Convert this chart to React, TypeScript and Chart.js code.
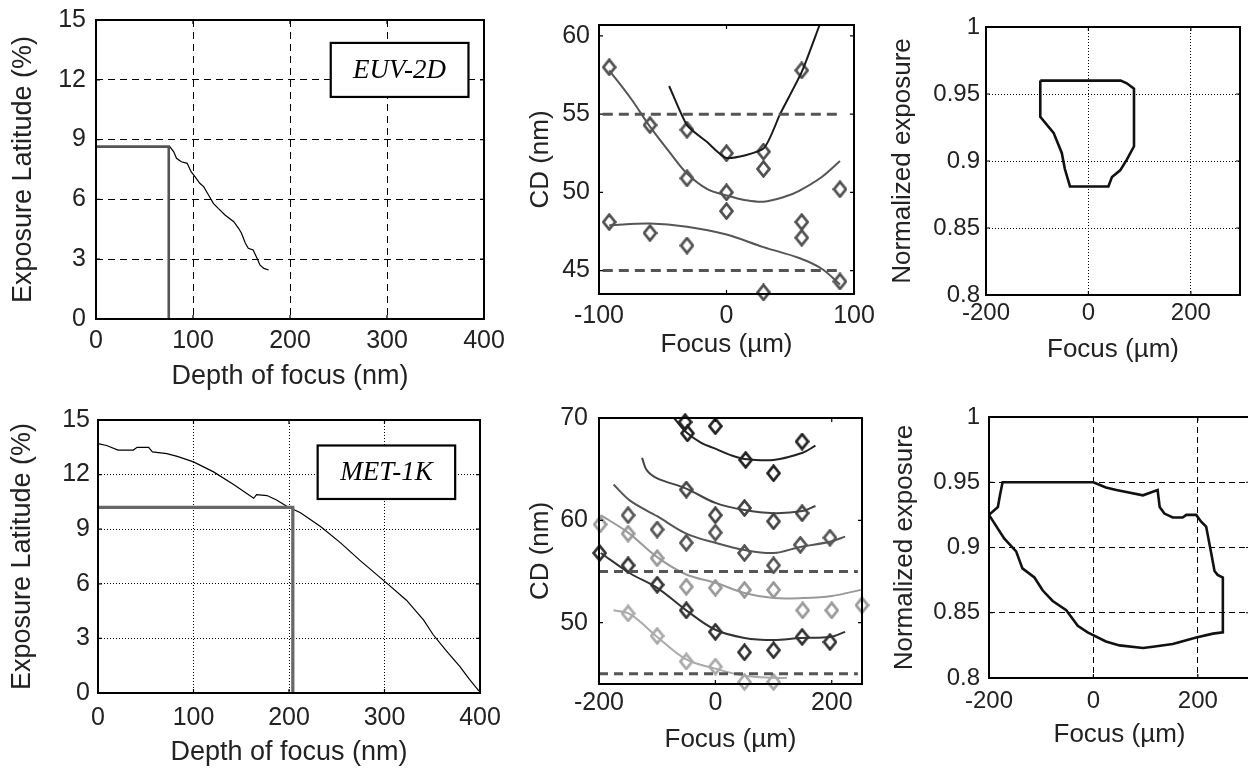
import React, { useEffect, useRef } from "react";
import { Chart, registerables } from "chart.js";

Chart.register(...registerables);

// ---------------- Panel 1: EUV-2D exposure latitude vs depth of focus ----------------
const euvDofNm = [76, 80, 83, 88, 94, 98, 102, 107, 111, 116, 121, 126, 133, 142, 147, 150, 154, 157, 162, 166, 169, 173, 178];
const euvLatitudePct = [8.65, 8.4, 8.06, 7.89, 7.81, 7.39, 7.14, 6.81, 6.64, 6.22, 5.8, 5.55, 5.22, 4.88, 4.55, 4.3, 3.8, 3.55, 3.46, 3.05, 2.71, 2.54, 2.46];
const euvChosenDofNm = 75;
const euvChosenLatitudePct = 8.65;
const p1XTicks = [0, 100, 200, 300, 400];
const p1YTicks = [0, 3, 6, 9, 12, 15];

// ---------------- Panel 2: EUV-2D CD vs focus ----------------
const euvPtsFocus = [-92, -92, -60, -60, -31, -31, -31, 0, 0, 0, 29, 29, 29, 59, 59, 59, 89, 89];
const euvPtsCd = [58.0, 48.1, 54.3, 47.4, 54.0, 50.9, 46.6, 52.5, 50.0, 48.8, 52.6, 51.5, 43.6, 57.8, 48.1, 47.1, 50.2, 44.3];
const euvFitAFocus = [-45, -31, -15, 0, 29, 42, 59, 73];
const euvFitACd = [56.8, 54.3, 53.2, 52.2, 52.8, 55.0, 57.7, 60.7];
const euvFitBFocus = [-92, -75, -60, -45, -31, -15, 0, 15, 29, 45, 57, 75, 89];
const euvFitBCd = [57.8, 56.0, 54.2, 52.6, 51.2, 50.2, 49.8, 49.5, 49.4, 49.7, 50.1, 51.0, 52.0];
const euvFitCFocus = [-92, -60, -31, 0, 29, 57, 75, 89];
const euvFitCCd = [47.9, 48.0, 47.8, 47.3, 46.5, 45.8, 45.1, 44.1];
const euvSpecCd = [55, 45];
const euvSpecFocus = [-97, 90];
const p2XTicks = [-100, 0, 100];
const p2YTicks = [45, 50, 55, 60];

// ---------------- Panel 3: EUV-2D process window ----------------
const euvWinFocus = [-94, 63, 75, 89, 89, 75, 62, 46, 39, -36, -46, -52, -68, -94, -94];
const euvWinExposure = [0.96, 0.96, 0.958, 0.954, 0.911, 0.901, 0.893, 0.888, 0.881, 0.881, 0.894, 0.906, 0.921, 0.933, 0.96];
const p3XTicks = [-200, 0, 200];
const p3YTicks = [0.8, 0.85, 0.9, 0.95, 1];

// ---------------- Panel 4: MET-1K exposure latitude vs depth of focus ----------------
const metDofNm = [0, 9, 21, 37, 41, 53, 57, 72, 83, 100, 121, 142, 163, 166, 177, 187, 198, 212, 233, 254, 274, 302, 323, 341, 351, 365, 379, 389, 399];
const metLatitudePct = [13.7, 13.6, 13.35, 13.35, 13.5, 13.5, 13.25, 13.15, 13.0, 12.7, 12.15, 11.45, 10.7, 10.9, 10.85, 10.6, 10.25, 9.9, 9.15, 8.25, 7.3, 6.05, 5.1, 4.0, 3.2, 2.3, 1.45, 0.75, 0.1];
const metChosenDofNm = 204;
const metChosenLatitudePct = 10.2;
const p4XTicks = [0, 100, 200, 300, 400];
const p4YTicks = [0, 3, 6, 9, 12, 15];

// ---------------- Panel 5: MET-1K CD vs focus (six exposure doses) ----------------
const metFit1Focus = [-71, -50, -25, 0, 25, 50, 100, 150, 172];
const metFit1Cd = [70.0, 68.6, 67.6, 67.0, 66.4, 66.0, 65.9, 66.6, 67.3];
const metPts1Focus = [-52, -48, 0, 52, 100, 149];
const metPts1Cd = [69.6, 68.5, 69.2, 65.9, 64.6, 67.7];
const metFit2Focus = [-126, -118, -100, -50, 0, 50, 100, 150, 172];
const metFit2Cd = [66.1, 64.9, 64.1, 63.1, 61.7, 61.0, 60.7, 60.9, 61.4];
const metPts2Focus = [-50, 0, 50, 100, 149];
const metPts2Cd = [63.0, 60.5, 61.2, 59.9, 60.7];
const metFit3Focus = [-175, -146, -100, -50, 0, 50, 100, 146, 197, 223];
const metFit3Cd = [63.5, 61.9, 60.4, 58.7, 57.8, 57.1, 56.8, 57.4, 57.9, 58.4];
const metPts3Focus = [-150, -100, -50, 0, 50, 100, 146, 197];
const metPts3Cd = [60.5, 59.1, 57.8, 58.8, 56.8, 55.6, 57.6, 58.3];
const metFit4Focus = [-197, -150, -100, -50, 0, 50, 100, 150, 200, 250];
const metFit4Cd = [60.5, 58.8, 56.4, 54.7, 53.9, 52.9, 52.4, 52.4, 52.6, 53.2];
const metPts4Focus = [-198, -150, -100, -50, 0, 50, 100, 150, 200, 252];
const metPts4Cd = [59.6, 58.7, 56.3, 53.5, 53.4, 53.2, 53.2, 51.2, 51.2, 51.7];
const metFit5Focus = [-197, -146, -100, -50, 0, 50, 100, 146, 197, 223];
const metFit5Cd = [56.8, 54.8, 53.4, 51.2, 49.3, 48.5, 48.3, 48.5, 48.6, 49.1];
const metPts5Focus = [-199, -150, -100, -50, 0, 50, 100, 149, 197];
const metPts5Cd = [56.8, 55.6, 53.7, 51.2, 49.1, 47.1, 47.3, 48.6, 48.1];
const metFit6Focus = [-175, -146, -100, -50, 0, 50, 100, 123];
const metFit6Cd = [51.2, 50.8, 48.6, 46.4, 45.5, 44.8, 44.6, 44.6];
const metPts6Focus = [-150, -100, -50, 0, 50, 100];
const metPts6Cd = [50.9, 48.7, 46.2, 45.7, 44.2, 44.2];
const metSpecCd = [55, 45];
const metSpecFocus = [-200, 245];
const p5XTicks = [-200, 0, 200];
const p5YTicks = [50, 60, 70];

// ---------------- Panel 6: MET-1K process window ----------------
const metWinFocus = [-200, -183, -179, -174, 0, 24, 44, 95, 123, 127, 136, 152, 171, 178, 197, 206, 216, 226, 232, 238, 248, 248, 229, 197, 152, 114, 95, 50, 24, -11, -30, -52, -78, -97, -113, -136, -148, -171, -200];
const metWinExposure = [0.925, 0.931, 0.94, 0.95, 0.95, 0.946, 0.944, 0.94, 0.944, 0.931, 0.926, 0.923, 0.923, 0.925, 0.925, 0.92, 0.916, 0.895, 0.882, 0.879, 0.877, 0.835, 0.834, 0.831, 0.826, 0.824, 0.823, 0.825, 0.828, 0.835, 0.84, 0.852, 0.859, 0.867, 0.877, 0.884, 0.897, 0.907, 0.925];
const p6XTicks = [-200, 0, 200];
const p6YTicks = [0.8, 0.85, 0.9, 0.95, 1];

// ---------------- helpers ----------------
const TICK_FONT = "'Liberation Sans', Arial, sans-serif";
const TITLE_FONT = "'Liberation Sans', Arial, sans-serif";
const TEXT_COLOR = "#222";

const pairs = (xs: number[], ys: number[]) => xs.map((x, i) => ({ x, y: ys[i] }));

const diamondCache: Record<string, HTMLCanvasElement> = {};
function diamond(color: string): HTMLCanvasElement {
  if (diamondCache[color]) return diamondCache[color];
  const c = document.createElement("canvas");
  const w = 15, h = 18;
  c.width = w;
  c.height = h;
  const g = c.getContext("2d")!;
  g.strokeStyle = color;
  g.lineWidth = 2.7;
  g.lineJoin = "miter";
  g.beginPath();
  g.moveTo(w / 2, 1.6);
  g.lineTo(w - 1.6, h / 2);
  g.lineTo(w / 2, h - 1.6);
  g.lineTo(1.6, h / 2);
  g.closePath();
  g.stroke();
  diamondCache[color] = c;
  return c;
}

function lineDs(xs: number[], ys: number[], color: string, width: number, tension = 0, dash: number[] = []) {
  return {
    data: pairs(xs, ys),
    showLine: true,
    borderColor: color,
    borderWidth: width,
    borderDash: dash,
    tension,
    pointRadius: 0,
    fill: false,
    clip: false as any,
  };
}
function pointsDs(xs: number[], ys: number[], color: string) {
  return {
    data: pairs(xs, ys),
    showLine: false,
    pointStyle: diamond(color),
    pointRadius: 7,
    borderColor: color,
    backgroundColor: "rgba(0,0,0,0)",
    clip: false as any,
  };
}

const framePlugin = {
  id: "frame",
  afterDatasetsDraw(chart: any, _a: any, opts: any) {
    const { ctx, chartArea: a, scales } = chart;
    ctx.save();
    ctx.setLineDash([]);
    ctx.strokeStyle = "#000";
    if (opts.box) {
      const b = opts.box;
      const x0 = scales.x.getPixelForValue(b.x0);
      const x1 = scales.x.getPixelForValue(b.x1);
      const y0 = scales.y.getPixelForValue(b.y0);
      const y1 = scales.y.getPixelForValue(b.y1);
      ctx.fillStyle = "#fff";
      ctx.fillRect(x0, y1, x1 - x0, y0 - y1);
      ctx.lineWidth = 2.2;
      ctx.strokeRect(x0, y1, x1 - x0, y0 - y1);
      ctx.fillStyle = "#000";
      ctx.font = "italic 27px 'Liberation Serif', 'Times New Roman', serif";
      ctx.textAlign = "center";
      ctx.textBaseline = "middle";
      ctx.fillText(b.text, (x0 + x1) / 2, (y0 + y1) / 2 + 1);
    }
    const tl = opts.tickLen || 4;
    ctx.lineWidth = 1.2;
    ctx.beginPath();
    for (const t of scales.x.ticks) {
      const px = scales.x.getPixelForValue(t.value);
      ctx.moveTo(px, a.bottom);
      ctx.lineTo(px, a.bottom - tl);
      ctx.moveTo(px, a.top);
      ctx.lineTo(px, a.top + tl);
    }
    for (const t of scales.y.ticks) {
      const py = scales.y.getPixelForValue(t.value);
      ctx.moveTo(a.left, py);
      ctx.lineTo(a.left + tl, py);
      ctx.moveTo(a.right, py);
      ctx.lineTo(a.right - tl, py);
    }
    ctx.stroke();
    ctx.lineWidth = opts.width || 2;
    ctx.strokeRect(a.left, a.top, a.right - a.left, a.bottom - a.top);
    ctx.restore();
  },
};

interface AxisSpec {
  min: number;
  max: number;
  ticks: number[];
  title: string;
  dash: number[] | null;
  tickPad: number;
  titleAt: number;
}
interface PanelSpec {
  rect: [number, number, number, number];
  x: AxisSpec;
  y: AxisSpec;
  tickSize: number;
  titleSize: number;
  datasets: any[];
  box?: { x0: number; x1: number; y0: number; y1: number; text: string };
}

const YW = 110;
const XH = 90;
const PAD_T = 20;
const PAD_R = 30;

function Panel({ spec }: { spec: PanelSpec }) {
  const ref = useRef<HTMLCanvasElement>(null);
  const [L, T, R, B] = spec.rect;
  const cw = R - L + YW + PAD_R;
  const ch = B - T + PAD_T + XH;
  useEffect(() => {
    const lh = spec.titleSize * 1.2;
    const xTitlePad = B + XH - lh / 2 - spec.x.titleAt;
    const yTitlePad = spec.y.titleAt - (L - YW) - lh / 2;
    const tlh = spec.tickSize * 1.2;
    const axis = (ax: AxisSpec, isX: boolean) => ({
      type: "linear",
      min: ax.min,
      max: ax.max,
      afterBuildTicks: (s: any) => {
        s.ticks = ax.ticks.map((v) => ({ value: v }));
      },
      afterFit: (s: any) => {
        if (isX) {
          s.height = XH;
          s.paddingLeft = 0;
          s.paddingRight = 0;
        } else {
          s.width = YW;
          s.paddingTop = 0;
          s.paddingBottom = 0;
        }
      },
      ticks: {
        autoSkip: false,
        maxRotation: 0,
        padding: isX ? ax.tickPad - B - tlh / 2 : ax.tickPad,
        color: TEXT_COLOR,
        font: { family: TICK_FONT, size: spec.tickSize },
        callback: (v: any) => String(v),
      },
      grid: {
        display: !!ax.dash,
        color: "#000",
        lineWidth: 1,
        drawTicks: false,
        tickLength: 0,
      },
      border: { display: false, dash: ax.dash || [] },
      title: {
        display: true,
        text: ax.title,
        color: TEXT_COLOR,
        font: { family: TITLE_FONT, size: spec.titleSize },
        padding: isX ? { top: 0, bottom: xTitlePad } : { top: yTitlePad, bottom: 0 },
      },
    });
    const chart = new Chart(ref.current!, {
      type: "scatter",
      data: { datasets: spec.datasets },
      options: {
        animation: false,
        responsive: false,
        events: [],
        layout: { padding: { left: 0, top: PAD_T, right: PAD_R, bottom: 0 } },
        plugins: {
          legend: { display: false },
          tooltip: { enabled: false },
          frame: { width: 2, tickLen: 4, box: spec.box },
        } as any,
        scales: { x: axis(spec.x, true) as any, y: axis(spec.y, false) as any },
      },
      plugins: [framePlugin],
    });
    return () => chart.destroy();
  }, []);
  return (
    <canvas
      ref={ref}
      width={cw}
      height={ch}
      style={{ position: "absolute", left: L - YW, top: T - PAD_T, width: cw, height: ch }}
    />
  );
}

// x.tickPad below holds the page y of the tick-label centre line; y.tickPad is the gap to the axis
const panels: PanelSpec[] = [
  {
    rect: [96, 20, 484, 319],
    x: { min: 0, max: 400, ticks: p1XTicks, title: "Depth of focus (nm)", dash: [7, 5], tickPad: 341, titleAt: 377 },
    y: { min: 0, max: 15, ticks: p1YTicks, title: "Exposure Latitude (%)", dash: [7, 5], tickPad: 10, titleAt: 24 },
    tickSize: 25,
    titleSize: 27,
    box: { x0: 242, x1: 384, y0: 11.14, y1: 13.85, text: "EUV-2D" },
    datasets: [
      lineDs([0, euvChosenDofNm, euvChosenDofNm], [euvChosenLatitudePct, euvChosenLatitudePct, 0], "#555", 2.6),
      lineDs([euvChosenDofNm, ...euvDofNm], [euvChosenLatitudePct, ...euvLatitudePct], "#000", 1.2),
    ],
  },
  {
    rect: [599, 25, 854, 294],
    x: { min: -100, max: 100, ticks: p2XTicks, title: "Focus (\u00b5m)", dash: null, tickPad: 316, titleAt: 345 },
    y: { min: 43.5, max: 60.7, ticks: p2YTicks, title: "CD (nm)", dash: null, tickPad: 9, titleAt: 541 },
    tickSize: 25,
    titleSize: 26,
    datasets: [
      lineDs(euvSpecFocus, [euvSpecCd[0], euvSpecCd[0]], "#555", 3, 0, [10, 6]),
      lineDs(euvSpecFocus, [euvSpecCd[1], euvSpecCd[1]], "#555", 3, 0, [10, 6]),
      lineDs(euvFitBFocus, euvFitBCd, "#555", 2, 0.35),
      lineDs(euvFitCFocus, euvFitCCd, "#555", 2, 0.35),
      lineDs(euvFitAFocus, euvFitACd, "#1a1a1a", 2, 0.2),
      pointsDs(euvPtsFocus, euvPtsCd, "#505050"),
    ],
  },
  {
    rect: [986, 27, 1240, 295],
    x: { min: -200, max: 296, ticks: p3XTicks, title: "Focus (\u00b5m)", dash: [1, 2], tickPad: 313, titleAt: 350 },
    y: { min: 0.8, max: 1, ticks: p3YTicks, title: "Normalized exposure", dash: [1, 2], tickPad: 6, titleAt: 903 },
    tickSize: 24,
    titleSize: 26,
    datasets: [lineDs(euvWinFocus, euvWinExposure, "#111", 2.6)],
  },
  {
    rect: [98, 420, 480, 693],
    x: { min: 0, max: 400, ticks: p4XTicks, title: "Depth of focus (nm)", dash: [1, 2], tickPad: 718, titleAt: 753 },
    y: { min: 0, max: 15, ticks: p4YTicks, title: "Exposure Latitude (%)", dash: [1, 2], tickPad: 8, titleAt: 23 },
    tickSize: 25,
    titleSize: 27,
    box: { x0: 230, x1: 374, y0: 10.66, y1: 13.6, text: "MET-1K" },
    datasets: [
      lineDs([0, metChosenDofNm, metChosenDofNm], [metChosenLatitudePct, metChosenLatitudePct, 0], "#666", 3.2),
      lineDs(metDofNm, metLatitudePct, "#000", 1.2),
    ],
  },
  {
    rect: [599, 418, 862, 684],
    x: { min: -200, max: 252, ticks: p5XTicks, title: "Focus (\u00b5m)", dash: null, tickPad: 703, titleAt: 740 },
    y: { min: 44, max: 70, ticks: p5YTicks, title: "CD (nm)", dash: null, tickPad: 11, titleAt: 541 },
    tickSize: 25,
    titleSize: 26,
    datasets: [
      lineDs(metSpecFocus, [metSpecCd[0], metSpecCd[0]], "#555", 3, 0, [9, 6]),
      lineDs(metSpecFocus, [metSpecCd[1], metSpecCd[1]], "#555", 3, 0, [9, 6]),
      lineDs(metFit6Focus, metFit6Cd, "#aaa", 2, 0.35),
      pointsDs(metPts6Focus, metPts6Cd, "#aaa"),
      lineDs(metFit4Focus, metFit4Cd, "#999", 2, 0.35),
      pointsDs(metPts4Focus, metPts4Cd, "#999"),
      lineDs(metFit5Focus, metFit5Cd, "#333", 2, 0.35),
      pointsDs(metPts5Focus, metPts5Cd, "#333"),
      lineDs(metFit3Focus, metFit3Cd, "#555", 2, 0.35),
      pointsDs(metPts3Focus, metPts3Cd, "#555"),
      lineDs(metFit2Focus, metFit2Cd, "#444", 2, 0.35),
      pointsDs(metPts2Focus, metPts2Cd, "#444"),
      lineDs(metFit1Focus, metFit1Cd, "#222", 2, 0.35),
      pointsDs(metPts1Focus, metPts1Cd, "#222"),
    ],
  },
  {
    rect: [989, 417, 1250, 678],
    x: { min: -200, max: 300, ticks: p6XTicks, title: "Focus (\u00b5m)", dash: [6, 4], tickPad: 701, titleAt: 735 },
    y: { min: 0.8, max: 1, ticks: p6YTicks, title: "Normalized exposure", dash: [6, 4], tickPad: 9, titleAt: 905 },
    tickSize: 24,
    titleSize: 26,
    datasets: [lineDs(metWinFocus, metWinExposure, "#111", 2.6)],
  },
];

export default function App() {
  return (
    <div
      style={{
        position: "absolute",
        left: 0,
        top: 0,
        width: 1248,
        height: 775,
        overflow: "hidden",
        background: "#fff",
      }}
    >
      {panels.map((p, i) => (
        <Panel key={i} spec={p} />
      ))}
    </div>
  );
}
